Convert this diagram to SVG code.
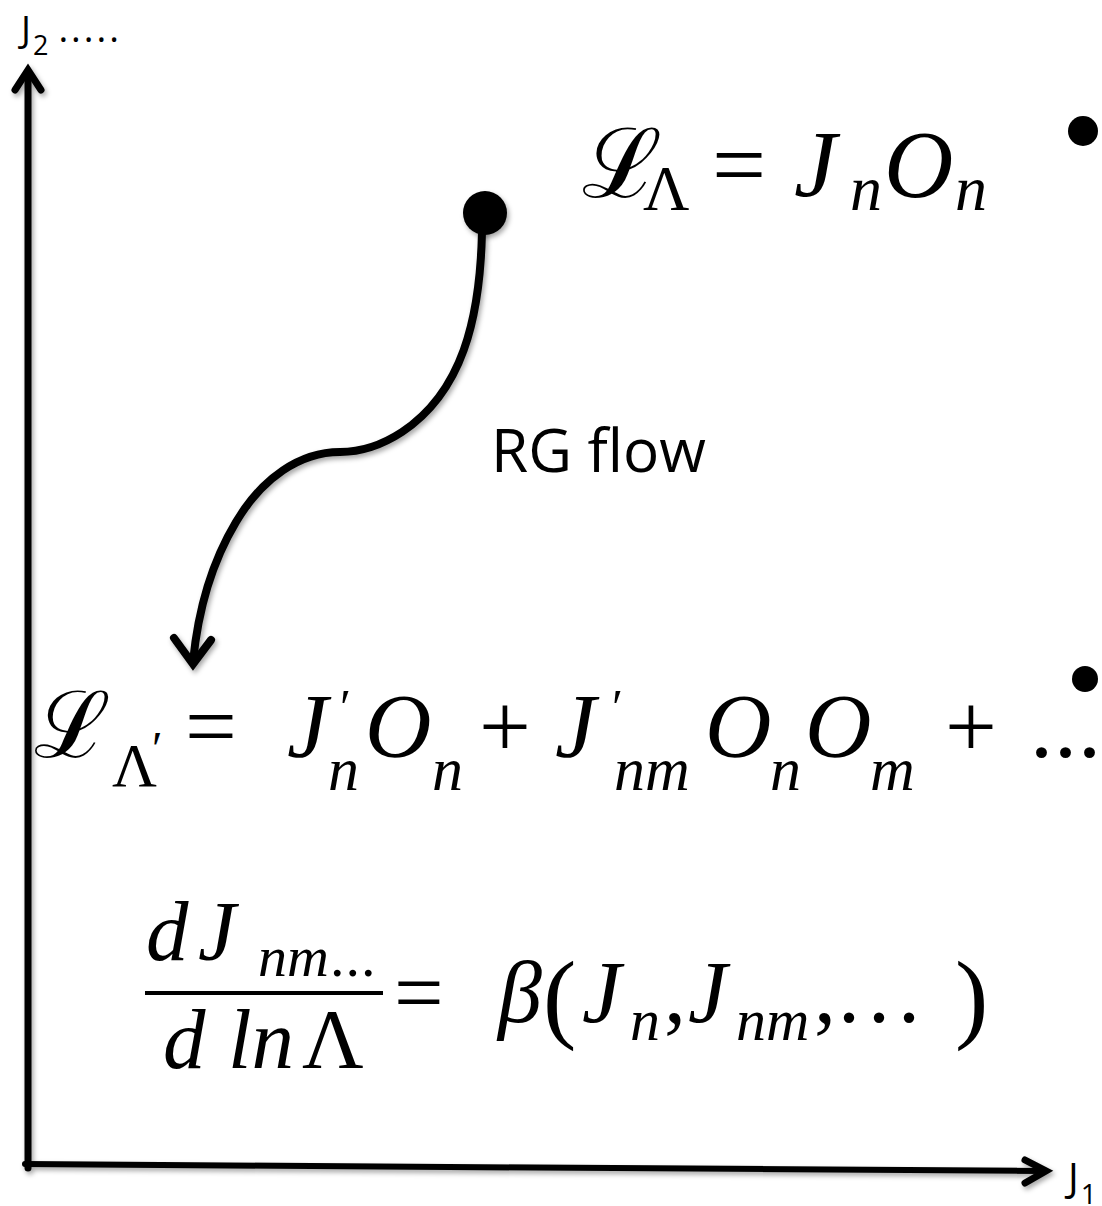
<svg xmlns="http://www.w3.org/2000/svg" width="1102" height="1206" viewBox="0 0 1102 1206">
<defs>
<filter id="sh" x="-20%" y="-20%" width="140%" height="140%">
<feDropShadow dx="2" dy="3" stdDeviation="2.5" flood-color="#000" flood-opacity="0.35"/>
</filter>
<style>
.lbl{font-family:"Open Sans","Liberation Sans",sans-serif;fill:#000}
.m{font-family:"Liberation Serif","DejaVu Serif",serif;fill:#000}
.i{font-style:italic}
.ln{stroke:#000;fill:none;stroke-linecap:round;stroke-linejoin:miter}
</style>
</defs>
<rect width="1102" height="1206" fill="#fff"/>

<g id="axes" filter="url(#sh)">
<line class="ln" x1="28" y1="1168" x2="28" y2="72" stroke-width="7" stroke-linecap="butt"/>
<polyline class="ln" points="15,90 28,70 41,90" stroke-width="7"/>
<line class="ln" x1="25" y1="1164" x2="1044" y2="1171" stroke-width="6" stroke-linecap="butt"/>
<polyline class="ln" points="1025,1160 1046,1171 1025,1183" stroke-width="7"/>
</g>

<g id="axis-labels">
<text class="lbl" x="21" y="42" font-size="37">J<tspan font-size="27" dy="13" dx="2">2</tspan><tspan dy="-13" dx="10" letter-spacing="3">.....</tspan></text>
<text class="lbl" x="1068" y="1192" font-size="40">J<tspan font-size="28" dy="12" dx="2">1</tspan></text>
</g>

<g id="start-point">
<circle cx="485" cy="213" r="22" fill="#000" filter="url(#sh)"/>
</g>

<g id="connectors" filter="url(#sh)">
<path class="ln" d="M482 232 C480 320 462 392 402 432 C376 449 356 452 340 452 C300 452 262 478 236 522 C212 562 198 610 193 662" stroke-width="8"/>
<polyline class="ln" points="174,638 193,664 211,640" stroke-width="8"/>
</g>

<g id="rg-label">
<text class="lbl" x="491" y="472" font-size="60" textLength="215" lengthAdjust="spacingAndGlyphs">RG flow</text>
</g>

<g id="bullets">
<circle cx="1083" cy="131" r="15" fill="#000"/>
<circle cx="1085" cy="679" r="13" fill="#000"/>
</g>

<g id="lagrangian-1">
<text class="m" y="197" font-size="96"><tspan x="582">ℒ</tspan><tspan x="643" y="210" font-size="64">Λ</tspan><tspan x="712" y="197">=</tspan><tspan class="i" x="794">J</tspan><tspan class="i" x="850" y="210" font-size="64">n</tspan><tspan class="i" x="884" y="197">O</tspan><tspan class="i" x="955" y="210" font-size="64">n</tspan></text>
</g>

<g id="lagrangian-2">
<text class="m" y="757" font-size="92"><tspan x="34">ℒ</tspan><tspan x="112" y="786" font-size="62">Λ</tspan><tspan x="152" y="765" font-size="48">′</tspan><tspan x="185" y="757">=</tspan><tspan class="i" x="287">J</tspan><tspan x="340" y="724" font-size="50">′</tspan><tspan class="i" x="328" y="790" font-size="62">n</tspan><tspan class="i" x="365" y="757">O</tspan><tspan class="i" x="432" y="790" font-size="62">n</tspan><tspan x="479" y="757">+</tspan><tspan class="i" x="555">J</tspan><tspan x="612" y="724" font-size="50">′</tspan><tspan class="i" x="614" y="790" font-size="62">nm</tspan><tspan class="i" x="705" y="757">O</tspan><tspan class="i" x="770" y="790" font-size="62">n</tspan><tspan class="i" x="805" y="757">O</tspan><tspan class="i" x="870" y="790" font-size="62">m</tspan><tspan x="945" y="757">+</tspan><tspan x="1030" y="757" letter-spacing="1">...</tspan></text>
</g>

<g id="beta-function">
<text class="m i" y="960" font-size="85"><tspan x="146">d</tspan><tspan x="198">J</tspan><tspan x="258" y="976" font-size="58">nm</tspan><tspan x="330" y="976" font-size="58" font-style="normal" letter-spacing="1">...</tspan></text>
<line x1="145" y1="993" x2="383" y2="993" stroke="#000" stroke-width="4"/>
<text class="m i" y="1068" font-size="85"><tspan x="163">d</tspan><tspan x="228">ln</tspan><tspan x="302" font-style="normal">Λ</tspan></text>
<text class="m" y="1022" font-size="88"><tspan x="394">=</tspan><tspan class="i" x="498">β</tspan><tspan x="543" font-size="100" y="1030">(</tspan><tspan class="i" x="582" y="1022">J</tspan><tspan class="i" x="630" y="1040" font-size="60">n</tspan><tspan x="664" y="1022">,</tspan><tspan class="i" x="688">J</tspan><tspan class="i" x="736" y="1040" font-size="60">nm</tspan><tspan x="814" y="1022">,</tspan><tspan x="838" letter-spacing="8">...</tspan><tspan x="955" font-size="100" y="1030">)</tspan></text>
</g>
</svg>
